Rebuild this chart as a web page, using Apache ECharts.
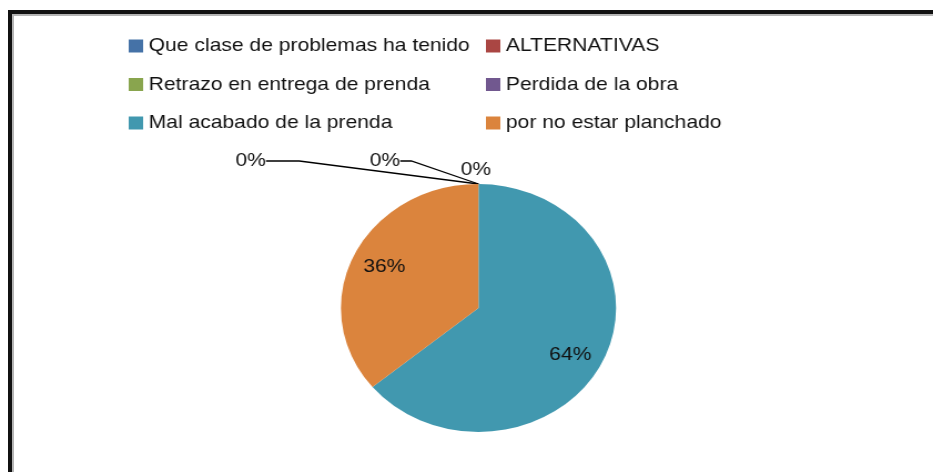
<!DOCTYPE html>
<html>
<head>
<meta charset="utf-8">
<script src="https://cdn.jsdelivr.net/npm/echarts@6/dist/echarts.min.js"></script>
<style>
html, body { margin: 0; padding: 0; background: #fff; overflow: hidden; }
#frame { position: absolute; left: 8px; top: 10px; width: 1000px; height: 1000px; border-left: 4px solid #111; border-top: 4px solid #111; }
#frame2 { position: absolute; left: 12px; top: 14px; width: 1000px; height: 1000px; border-left: 2px solid #b4b4b4; border-top: 2px solid #b4b4b4; }
/* the original picture is stretched sideways, so the chart is too */
#main { position: absolute; left: 0; top: 0; width: 841px; height: 472px; transform: scaleX(1.1094); transform-origin: 0 0; }
</style>
</head>
<body>
<div id="frame"></div>
<div id="frame2"></div>
<div id="main"></div>
<script>
const categories = [
  'Que clase de problemas ha tenido',
  'ALTERNATIVAS',
  'Retrazo en entrega de prenda',
  'Perdida de la obra',
  'Mal acabado de la prenda',
  'por no estar planchado'
];
const values = [0, 0, 0, 0, 64, 36];
const colors = ['#4572A7', '#AA4643', '#89A54E', '#71588F', '#4198AF', '#DB843D'];

// label placement (inner, unscaled px)
const outsidePos = { 1: [226, 161], 2: [347, 161], 3: [429, 170] };
const insideShift = { 4: [24, 19], 5: [-26, -14] };

const chart = echarts.init(document.getElementById('main'));

const data = categories.map(function (name, i) {
  const inside = values[i] > 0;
  return {
    name: name,
    value: values[i],
    itemStyle: { color: colors[i] },
    label: {
      show: i !== 0,
      position: inside ? 'inside' : 'outside'
    },
    labelLine: {
      show: i === 1 || i === 2,
      length: 10,
      length2: i === 1 ? 30 : 10,
      lineStyle: { color: '#000', width: 1.3 }
    }
  };
});

const legendText = { fontFamily: 'Liberation Sans', fontSize: 19, color: '#111', lineHeight: 19 };

function legendCol(left, names) {
  return {
    orient: 'vertical',
    left: left,
    top: 36.5,
    padding: 0,
    itemWidth: 13,
    itemHeight: 13,
    itemGap: 19.5,
    icon: 'rect',
    selectedMode: false,
    textStyle: legendText,
    data: names
  };
}

chart.setOption({
  animation: false,
  color: colors,
  legend: [
    legendCol(116, [categories[0], categories[2], categories[4]]),
    legendCol(438, [categories[1], categories[3], categories[5]])
  ],
  series: [
    {
      type: 'pie',
      center: [431.3, 308],
      radius: 124,
      startAngle: 90,
      clockwise: true,
      avoidLabelOverlap: false,
      percentPrecision: 0,
      emphasis: { disabled: true },
      label: {
        formatter: '{d}%',
        fontFamily: 'Liberation Sans',
        fontSize: 19,
        color: '#111'
      },
      labelLayout: function (p) {
        const o = outsidePos[p.dataIndex];
        if (o) {
          return { x: o[0], y: o[1], align: 'center', verticalAlign: 'middle' };
        }
        const s = insideShift[p.dataIndex];
        if (s) {
          return { dx: s[0], dy: s[1] };
        }
        return {};
      },
      data: data
    }
  ]
});
</script>
</body>
</html>
